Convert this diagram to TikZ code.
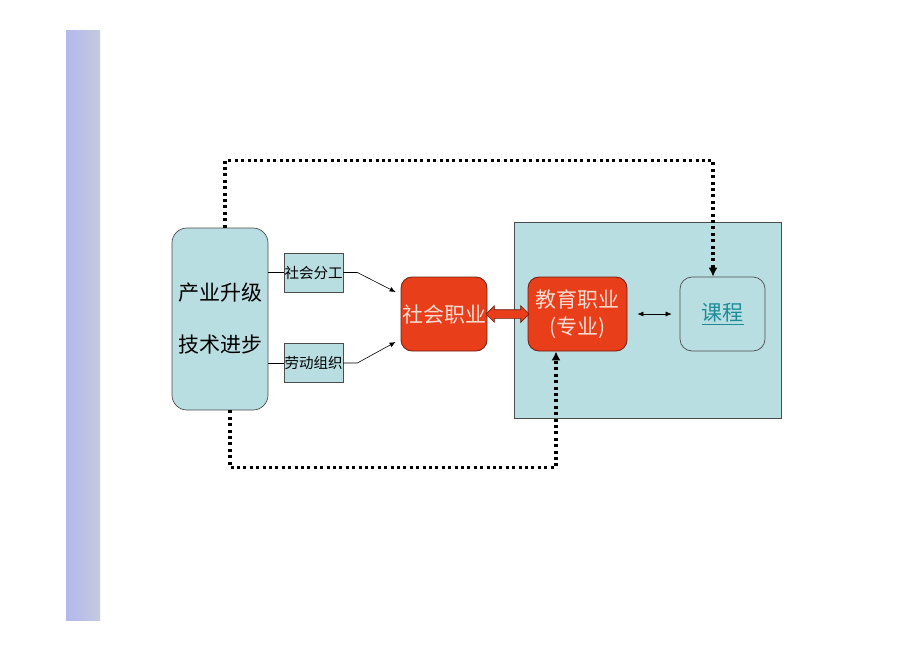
\documentclass[tikz,border=0pt]{standalone}
\usepackage{fontspec}
\newfontfamily\cjk{Noto Sans CJK SC}
\usepackage{tikz}
\usetikzlibrary{arrows.meta,shapes.arrows}

\definecolor{boxcyan}{RGB}{185,222,225}
\definecolor{boxred}{RGB}{232,62,26}
\definecolor{redline}{RGB}{110,30,20}
\definecolor{redtext}{RGB}{250,220,210}
\definecolor{linkteal}{RGB}{30,140,150}

\begin{document}
\begin{tikzpicture}[x=1pt, y=-1pt,
  cybox/.style = {draw = black!70, fill = boxcyan, shape = rectangle, line width = 0.7pt},
  smallbox/.style = {cybox, minimum width = 59pt, minimum height = 39pt, inner sep = 0pt, font = \cjk\fontsize{14.5}{14.5}\selectfont},
  redbox/.style = {draw = redline, fill = boxred, shape = rectangle, rounded corners = 11pt, line width = 0.8pt, minimum width = 86pt, minimum height = 74pt, inner sep = 0pt, text = redtext, align = center, font = \cjk\fontsize{21}{27}\selectfont},
  dotline/.style = {line width = 3.2pt, dash pattern = on 3pt off 3.4pt, -{Latex[length=9pt, width=9pt]}},
  thin arrow/.style = {line width = 0.6pt, -{Latex[length=6pt, width=5pt]}}]
\useasboundingbox (0,0) rectangle (920,651);

% left bar
\shade[left color = {rgb,255:red,178;green,184;blue,236}, right color = {rgb,255:red,196;green,202;blue,222}] (66,30) rectangle (100,620);

% right area
\node[cybox, minimum width = 267pt, minimum height = 196pt] (area) at (647.5,320) {};

% nodes
\node[cybox, rounded corners = 15pt, minimum width = 96pt, minimum height = 182pt, align = center, font = \cjk\fontsize{21}{52}\selectfont] (cy) at (220,319) {产业升级\\技术进步};
\node[smallbox] (fengong) at (313.5,272.5) {社会分工};
\node[smallbox] (laodong) at (313.5,363) {劳动组织};
\node[redbox] (shzy) at (444,314) {社会职业};
\node[redbox, minimum width = 99pt] (jyzy) at (577.5,314) {教育职业\\(专业)};
\node[cybox, rounded corners = 12pt, minimum width = 85pt, minimum height = 74pt, text = linkteal, font = \cjk\fontsize{21}{21}\selectfont] (kc) at (722.5,314) {\underline{课程}};

% connectors
\draw[line width = 0.6pt] (fengong.west -| cy.east) -- (fengong.west);
\draw[line width = 0.6pt] (laodong.west -| cy.east) -- (laodong.west);
\draw[thin arrow] (fengong.east) -- ++(14,0) -- ([shift={(-5,-22)}]shzy.west);
\draw[thin arrow] (laodong.east) -- ++(14,0) -- ([shift={(-5,28)}]shzy.west);
\path (shzy.east) -- (jyzy.west) node[midway, double arrow, draw = redline, fill = boxred, line width = 0.7pt, minimum height = 43pt, inner sep = 4pt, double arrow head extend = 4pt] (link) {};
\draw[line width = 0.6pt, {Latex[length=6pt, width=5pt]}-{Latex[length=6pt, width=5pt]}, shorten < = 10pt, shorten > = 8pt] (jyzy) -- (kc);

% feedback loops
\draw[dotline] ([xshift=5]cy.north) -- ++(0,-67) -| ([xshift=-9.5]kc.north);
\draw[dotline] ([xshift=10]cy.south) -- ++(0,57) -| ([xshift=-21.5]jyzy.south);
\end{tikzpicture}
\end{document}
